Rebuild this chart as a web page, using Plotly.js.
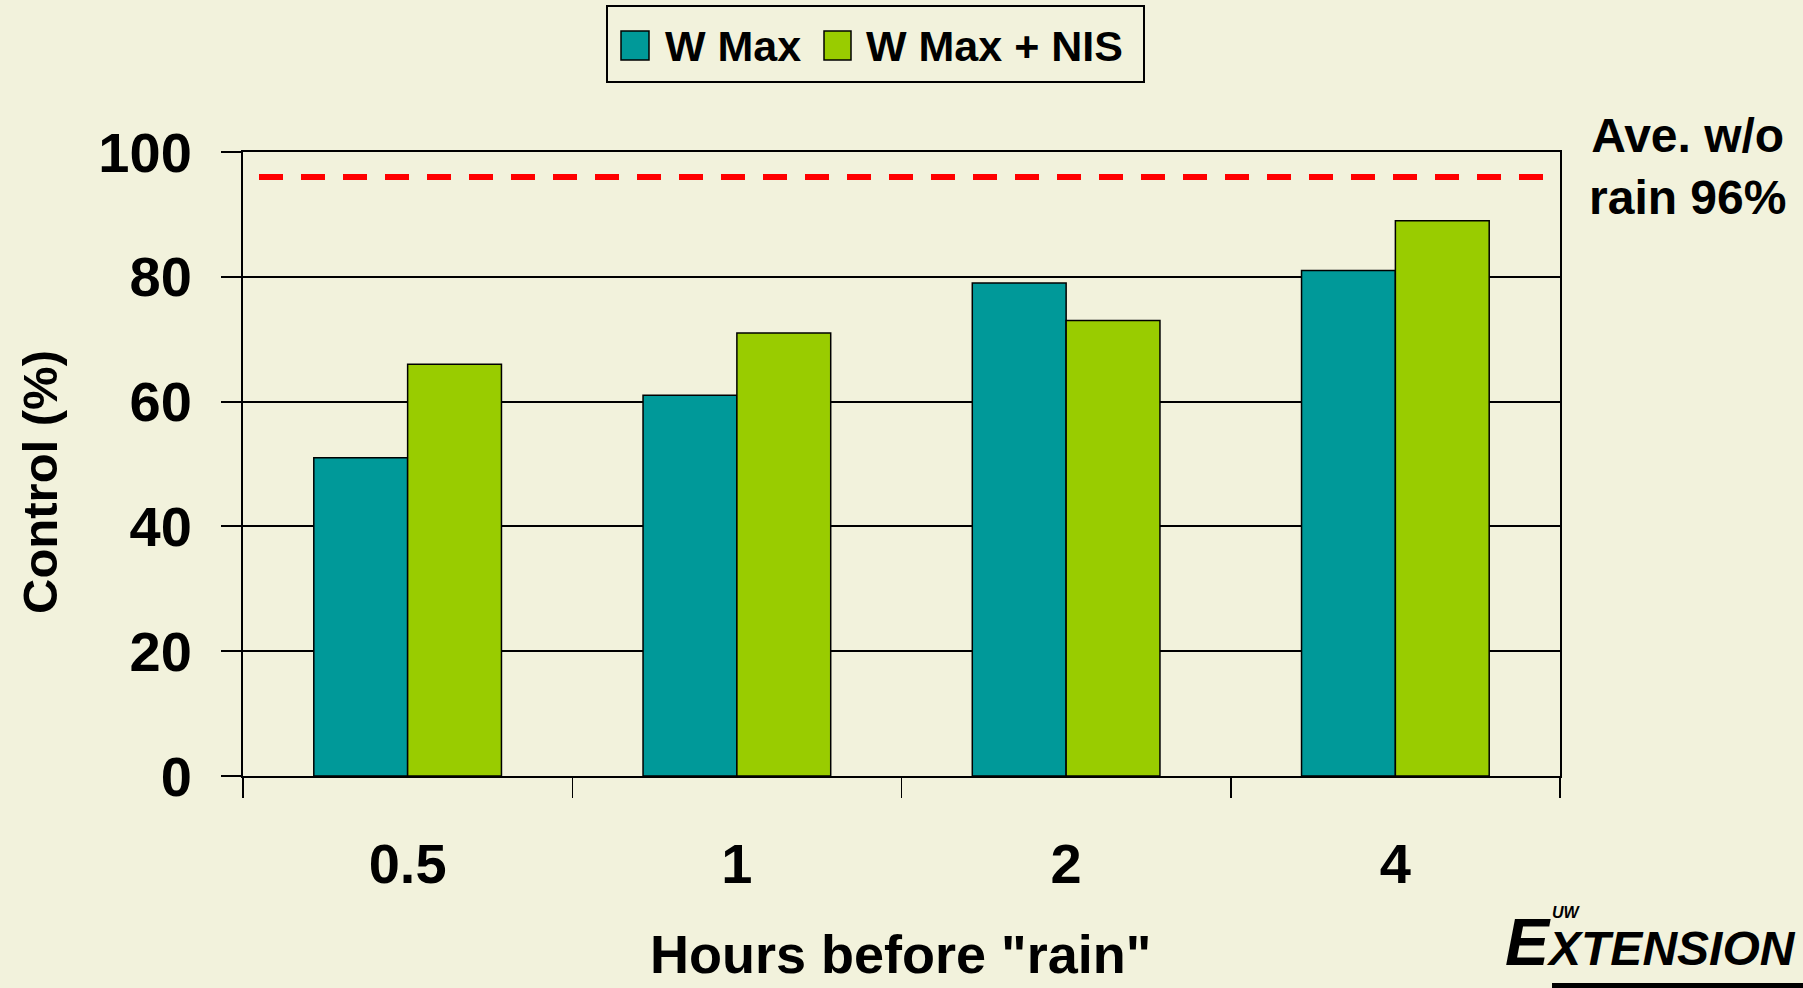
<!DOCTYPE html>
<html>
<head>
<meta charset="utf-8">
<script src="https://cdn.plot.ly/plotly-3.0.1.min.js"></script>
<style>
  html, body { margin: 0; padding: 0; background: #F2F2DC; }
  #chart { width: 1803px; height: 988px; }
</style>
</head>
<body>
<div id="chart"></div>
<script>
// ---- Data ----
const categories = ['0.5', '1', '2', '4'];
const seriesNames = ['W Max', 'W Max + NIS'];
const wMax = [51, 61, 79, 81];
const wMaxNIS = [66, 71, 73, 89];
const avgNoRain = 96;
const avgLabel = 'Ave. w/o<br>rain 96%';
const yTicks = [0, 20, 40, 60, 80, 100];
const xTitle = 'Hours before "rain"';
const yTitle = 'Control (%)';

// ---- Styles ----
const BG = '#F2F2DC';
const TEAL = '#009999';
const GREEN = '#99CC00';
const FONT = 'Liberation Sans, Arial, Helvetica, sans-serif';

const W = 1803, H = 988;
const L = 243, R = 243, T = 152, B = 212;
const PW = W - L - R, PH = H - T - B;
const px = x => (x - L) / PW;
const py = y => (H - B - y) / PH;

const traces = [
  {
    type: 'bar', name: seriesNames[0], x: categories, y: wMax,
    marker: { color: TEAL, line: { color: '#000', width: 1.5 } },
    showlegend: false, hoverinfo: 'x+y+name'
  },
  {
    type: 'bar', name: seriesNames[1], x: categories, y: wMaxNIS,
    marker: { color: GREEN, line: { color: '#000', width: 1.5 } },
    showlegend: false, hoverinfo: 'x+y+name'
  }
];

const boldFont = (size) => ({ family: FONT, size: size, color: '#000', weight: 'bold' });

const layout = {
  width: W, height: H,
  paper_bgcolor: BG, plot_bgcolor: BG,
  margin: { l: L, r: R, t: T, b: B, pad: 0 },
  barmode: 'group', bargap: 0.43, bargroupgap: 0,
  showlegend: false,
  font: boldFont(56),
  xaxis: {
    type: 'category', categoryorder: 'array', categoryarray: categories,
    range: [-0.5, categories.length - 0.5],
    showline: true, linecolor: '#000', linewidth: 2, mirror: true,
    ticks: 'outside', ticklen: 20, tickwidth: 1.5, tickcolor: '#000',
    tickson: 'boundaries', showgrid: false,
    tickfont: boldFont(56), ticklabelstandoff: 38,
    zeroline: false, fixedrange: true
  },
  yaxis: {
    range: [0, 100], tickvals: yTicks, ticktext: yTicks.map(String),
    showline: true, linecolor: '#000', linewidth: 2, mirror: true,
    ticks: 'outside', ticklen: 20, tickwidth: 2, tickcolor: '#000',
    showgrid: true, gridcolor: '#000', gridwidth: 2,
    tickfont: boldFont(56), ticklabelstandoff: 18,
    zeroline: false, fixedrange: true
  },
  shapes: [
    // Average without rain reference line
    { type: 'line', xref: 'paper', yref: 'y', x0: px(259), x1: 1, y0: avgNoRain, y1: avgNoRain,
      line: { color: '#FF0000', width: 6, dash: '24px,18px' } },
    // legend box
    { type: 'rect', xref: 'paper', yref: 'paper', x0: px(607), x1: px(1144), y0: py(82), y1: py(6),
      line: { color: '#000', width: 2 }, fillcolor: BG },
    { type: 'rect', xref: 'paper', yref: 'paper', x0: px(621), x1: px(649), y0: py(60), y1: py(31),
      line: { color: '#000', width: 1.5 }, fillcolor: TEAL },
    { type: 'rect', xref: 'paper', yref: 'paper', x0: px(824), x1: px(851), y0: py(60), y1: py(31),
      line: { color: '#000', width: 1.5 }, fillcolor: GREEN },
    // logo underline
    { type: 'rect', xref: 'paper', yref: 'paper', x0: px(1552), x1: px(1803), y0: py(988), y1: py(983),
      line: { width: 0 }, fillcolor: '#000' }
  ],
  annotations: [
    { xref: 'paper', yref: 'paper', x: px(663), y: py(46), xanchor: 'left', yanchor: 'middle',
      text: seriesNames[0], showarrow: false, font: boldFont(43) },
    { xref: 'paper', yref: 'paper', x: px(864), y: py(46), xanchor: 'left', yanchor: 'middle',
      text: seriesNames[1], showarrow: false, font: boldFont(43) },
    { xref: 'paper', yref: 'paper', x: px(1687), y: py(166), xanchor: 'center', yanchor: 'middle',
      text: avgLabel, showarrow: false, align: 'center', font: boldFont(48) },
    { xref: 'paper', yref: 'paper', x: px(900), y: py(986), xanchor: 'center', yanchor: 'bottom',
      text: xTitle, showarrow: false, font: boldFont(54) },
    { xref: 'paper', yref: 'paper', x: px(40), y: py(482), xanchor: 'center', yanchor: 'middle',
      text: yTitle, textangle: -90, showarrow: false, font: boldFont(49) },
    // UW Extension logo
    { xref: 'paper', yref: 'paper', x: px(1503), y: py(981), xanchor: 'left', yanchor: 'bottom',
      text: '<i>E<span style="font-size:48px">XTENSION</span></i>', showarrow: false,
      font: { family: FONT, size: 66, color: '#000', weight: 'bold' } },
    { xref: 'paper', yref: 'paper', x: px(1550), y: py(912), xanchor: 'left', yanchor: 'middle',
      text: '<i>UW</i>', showarrow: false,
      font: { family: FONT, size: 16, color: '#000', weight: 'bold' } }
  ]
};

Plotly.newPlot('chart', traces, layout, { displayModeBar: false, staticPlot: true });
</script>
</body>
</html>
